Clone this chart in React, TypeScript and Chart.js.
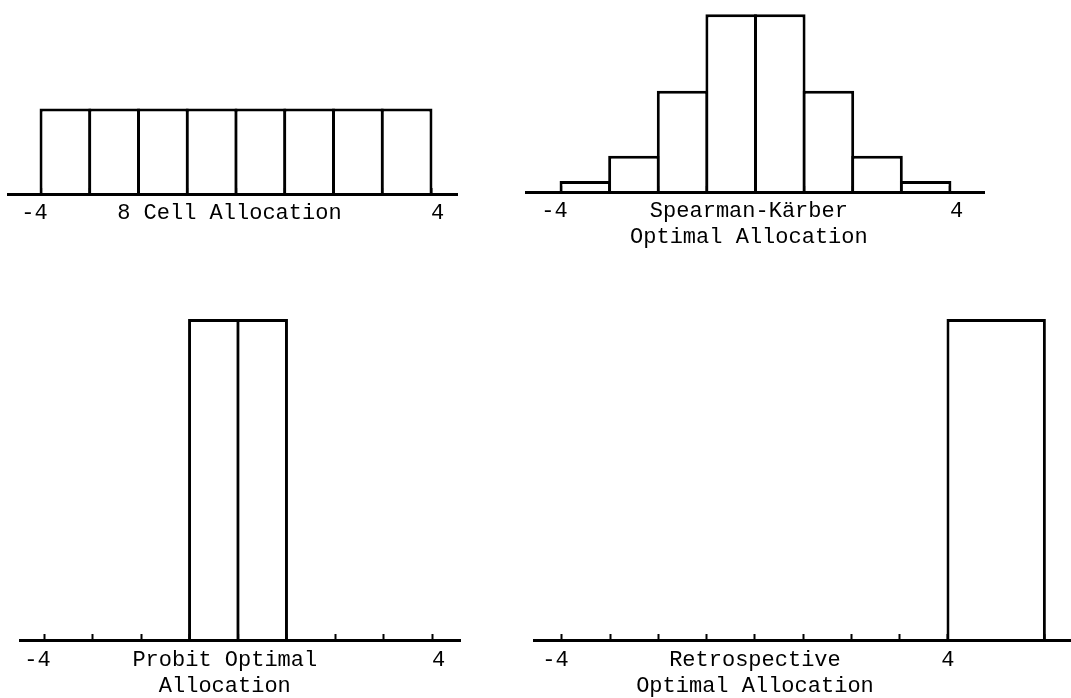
import React, { useEffect, useRef } from "react";
import { Chart, registerables } from "chart.js";

Chart.register(...registerables);

const FONT_FAMILY = "'Liberation Mono', 'Courier New', 'DejaVu Sans Mono', monospace";

// ---- data ----
const CELL_CENTERS = [-3.5, -2.5, -1.5, -0.5, 0.5, 1.5, 2.5, 3.5];
const EIGHT_CELL_VALUES = [0.125, 0.125, 0.125, 0.125, 0.125, 0.125, 0.125, 0.125];
const SPEARMAN_KARBER_VALUES = [0.016, 0.053, 0.148, 0.26, 0.26, 0.148, 0.053, 0.016];
const PROBIT_CENTERS = [-0.5, 0.5];
const PROBIT_VALUES = [0.5, 0.5];
const RETRO_CENTERS = [5];
const RETRO_VALUES = [1.0];

const TICK_VALUES = [-4, 0, 4];
const LABELS_8CELL = ["-4 ", ["8 Cell Allocation "], " 4"];
const LABELS_SK = ["-4 ", ["Spearman-Kärber ", "Optimal Allocation "], " 4"];
const LABELS_PROBIT = ["-4 ", ["Probit Optimal  ", "Allocation  "], " 4"];
const LABELS_RETRO = ["-4 ", ["Retrospective", "Optimal Allocation"], "4"];

type PanelCfg = {
  centers: number[];
  values: number[];
  binWidth: number;
  labels: (string | string[])[];
  xMin: number;
  xMax: number;
  yMax: number;
  box: { left: number; top: number; width: number; height: number };
  pad: { left: number; right: number; top: number };
  band: number;
  labelPad: number;
};

const PANELS: PanelCfg[] = [
  {
    centers: CELL_CENTERS, values: EIGHT_CELL_VALUES, binWidth: 1, labels: LABELS_8CELL,
    xMin: -4.677, xMax: 4.533, yMax: 0.28,
    box: { left: 0, top: 0, width: 480, height: 258 }, pad: { left: 8, right: 23, top: 2.5 }, band: 64, labelPad: 12,
  },
  {
    centers: CELL_CENTERS, values: SPEARMAN_KARBER_VALUES, binWidth: 1, labels: LABELS_SK,
    xMin: -4.72, xMax: 4.7, yMax: 0.28,
    box: { left: 500, top: 0, width: 520, height: 256 }, pad: { left: 26, right: 36, top: 0.5 }, band: 64, labelPad: 12,
  },
  {
    centers: PROBIT_CENTERS, values: PROBIT_VALUES, binWidth: 1, labels: LABELS_PROBIT,
    xMin: -4.495, xMax: 4.577, yMax: 0.52,
    box: { left: 0, top: 280, width: 490, height: 418 }, pad: { left: 20, right: 30, top: 26.2 }, band: 58, labelPad: 13,
  },
  {
    centers: RETRO_CENTERS, values: RETRO_VALUES, binWidth: 2, labels: LABELS_RETRO,
    xMin: -4.58, xMax: 6.53, yMax: 1.04,
    box: { left: 500, top: 280, width: 571, height: 418 }, pad: { left: 34, right: 1, top: 26.2 }, band: 58, labelPad: 13,
  },
];

function Panel({ cfg }: { cfg: PanelCfg }) {
  const ref = useRef<HTMLCanvasElement>(null);
  useEffect(() => {
    if (!ref.current) return;
    const chart = new Chart(ref.current, {
      type: "bar",
      data: {
        datasets: [
          {
            data: cfg.centers.map((x, i) => ({ x, y: cfg.values[i] })),
            backgroundColor: "#ffffff",
            borderColor: "#000000",
            borderWidth: 3,
            borderSkipped: "start",
            barPercentage: cfg.binWidth === 1 ? 1.06 : 1.03,
            categoryPercentage: cfg.binWidth,
          } as any,
        ],
      },
      options: {
        responsive: false,
        animation: false,
        layout: { padding: { left: cfg.pad.left, right: cfg.pad.right, top: cfg.pad.top, bottom: 0 } },
        plugins: {
          legend: { display: false },
          tooltip: { enabled: false },
          title: { display: false },
        },
        scales: {
          x: {
            type: "linear",
            min: cfg.xMin,
            max: cfg.xMax,
            offset: false,
            grid: {
              display: true,
              drawOnChartArea: false,
              drawTicks: true,
              tickLength: -6,
              tickWidth: 2,
              tickColor: "#000000",
              color: "#000000",
              offset: false,
            },
            border: { display: true, color: "#000000", width: 3, z: 1 },
            ticks: {
              stepSize: 1,
              includeBounds: false,
              autoSkip: false,
              maxRotation: 0,
              minRotation: 0,
              padding: cfg.labelPad,
              color: "#000000",
              font: { family: FONT_FAMILY, size: 22, lineHeight: 1.2 },
              callback: (v: any) => {
                const idx = TICK_VALUES.indexOf(Number(v));
                return idx >= 0 ? cfg.labels[idx] : "";
              },
            },
            afterFit: (scale: any) => {
              scale.height = cfg.band;
            },
          } as any,
          y: { display: false, min: 0, max: cfg.yMax },
        },
      },
    });
    return () => chart.destroy();
  }, [cfg]);
  return (
    <canvas
      ref={ref}
      width={cfg.box.width}
      height={cfg.box.height}
      style={{
        position: "absolute",
        left: cfg.box.left,
        top: cfg.box.top,
        width: cfg.box.width,
        height: cfg.box.height,
      }}
    />
  );
}

export default function App() {
  return (
    <div
      style={{
        position: "fixed",
        left: 0,
        top: 0,
        width: 1071,
        height: 698,
        overflow: "hidden",
        background: "#ffffff",
      }}
    >
      {PANELS.map((p, i) => (
        <Panel key={i} cfg={p} />
      ))}
    </div>
  );
}
